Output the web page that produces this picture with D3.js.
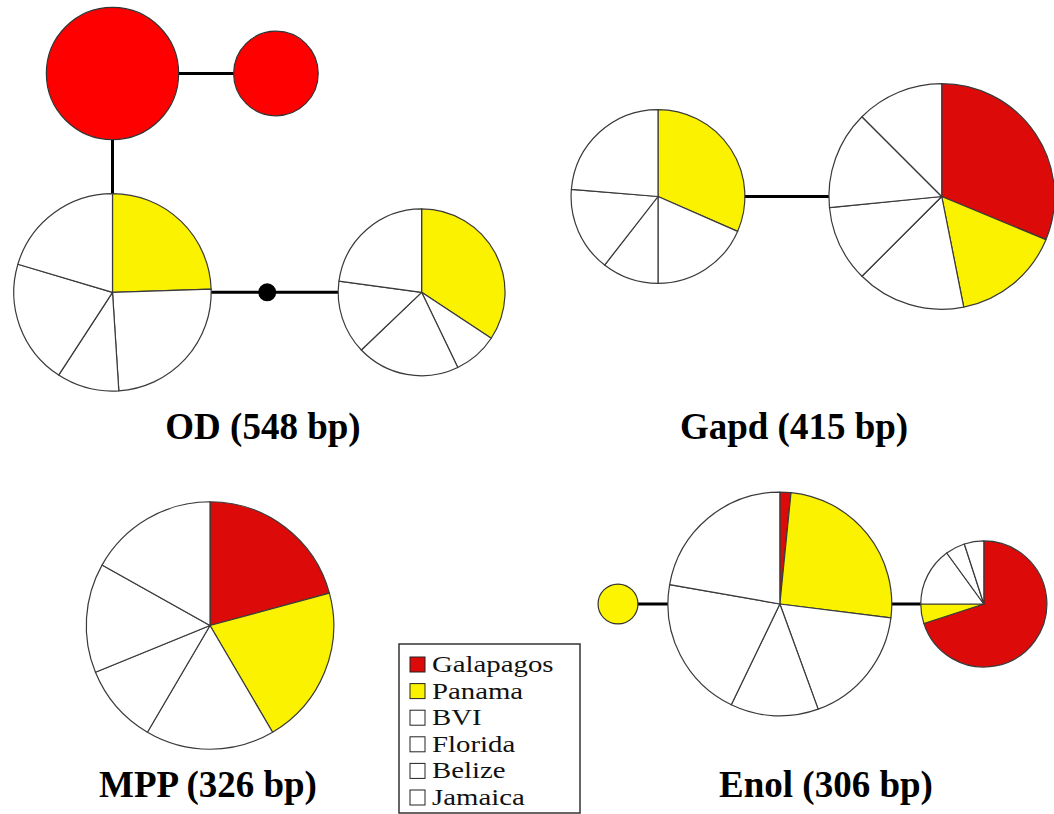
<!DOCTYPE html>
<html>
<head>
<meta charset="utf-8">
<script src="https://cdn.jsdelivr.net/npm/d3@7"></script>
<style>
  html, body { margin: 0; background: #fff; }
</style>
</head>
<body>
<svg id="chart"></svg>
<script>
// sampling regions, in the order the slices run (clockwise from 12 o'clock)
const regions = ["Galapagos", "Panama", "BVI", "Florida", "Belize", "Jamaica"];

// haplotype counts per region, one row per haplotype node
const odCounts = [
  [22, 0, 0, 0, 0, 0],
  [9, 0, 0, 0, 0, 0],
  [0, 12, 12, 5, 10, 10],
  [0, 12, 3, 7, 5, 8]
];
const gapdCounts = [
  [0, 12, 7, 4, 6, 9],
  [20, 10, 10, 7, 9, 8]
];
const mppCounts = [
  [16, 16, 13, 8, 11, 13]
];
const enolCounts = [
  [0, 2, 0, 0, 0, 0],
  [1, 16, 11, 8, 13, 14],
  [14, 1, 3, 1, 1, 0]
];
const locusLabels = ["OD (548 bp)", "Gapd (415 bp)", "MPP (326 bp)", "Enol (306 bp)"];

// colours
const pieColors = ["#dc0a08", "#fbf200", "#ffffff", "#ffffff", "#ffffff", "#ffffff"];
const soloColors = ["#ff0000", "#fcf400"]; // single-region nodes
const width = 1054, height = 814;

// network layout: root node centre, then links [from, to, direction, gap]
// "mv" is a median vector (missing haplotype)
const panels = [
  { counts: odCounts, root: [112.5, 73.5], label: [263, 439],
    links: [[0, 1, "right", 55], [0, 2, "down", 54], [2, "mv", "right", 47], ["mv", 3, "right", 62]] },
  { counts: gapdCounts, root: [658, 196.5], label: [794, 439],
    links: [[0, 1, "right", 84]] },
  { counts: mppCounts, root: [210, 625.5], label: [208, 797],
    links: [] },
  { counts: enolCounts, root: [618, 604], label: [826, 797],
    links: [[0, 1, "right", 30], [1, 2, "right", 29]] }
];
const dirs = { right: [1, 0], down: [0, 1] };

const svg = d3.select("#chart")
  .attr("width", width)
  .attr("height", height)
  .attr("viewBox", [0, 0, width, height])
  .style("font-family", "'Liberation Serif', 'Times New Roman', serif");

// node radius grows with the square root of the sample count
const rScale = d3.scaleSqrt().domain([0, 1]).range([0, 14.1]);
const mvRadius = 9;

const pie = d3.pie().sort(null).value(d => d.value);
const arc = d3.arc().innerRadius(0);

panels.forEach((p, pi) => {
  const rad = k => k === "mv" ? mvRadius : rScale(d3.sum(p.counts[k]));
  const pos = { 0: p.root };
  p.links.forEach(([a, b, dir, gap]) => {
    const d = dirs[dir];
    const dist = rad(a) + gap + rad(b);
    pos[b] = [pos[a][0] + d[0] * dist, pos[a][1] + d[1] * dist];
  });

  const g = svg.append("g");

  // links
  g.selectAll("line")
    .data(p.links)
    .join("line")
    .attr("x1", d => pos[d[0]][0])
    .attr("y1", d => pos[d[0]][1])
    .attr("x2", d => pos[d[1]][0])
    .attr("y2", d => pos[d[1]][1])
    .attr("stroke", "#000")
    .attr("stroke-width", 3);

  // haplotype nodes
  p.counts.forEach((c, k) => {
    const node = g.append("g").attr("transform", `translate(${pos[k]})`);
    const r = rad(k);
    const present = c.map((v, i) => ({ value: v, i })).filter(d => d.value > 0);
    if (present.length === 1) {
      node.append("circle")
        .attr("r", r)
        .attr("fill", soloColors[present[0].i])
        .attr("stroke", "#333")
        .attr("stroke-width", 1.2);
    } else {
      node.selectAll("path")
        .data(pie(present))
        .join("path")
        .attr("d", arc.outerRadius(r))
        .attr("fill", d => pieColors[d.data.i])
        .attr("stroke", "#3a3a3a")
        .attr("stroke-width", 1.2)
        .attr("stroke-linejoin", "round");
    }
  });

  // median vectors
  if (pos.mv) {
    g.append("circle")
      .attr("cx", pos.mv[0])
      .attr("cy", pos.mv[1])
      .attr("r", mvRadius)
      .attr("fill", "#000");
  }

  svg.append("text")
    .attr("x", p.label[0])
    .attr("y", p.label[1])
    .attr("text-anchor", "middle")
    .attr("font-weight", "bold")
    .attr("font-size", 37)
    .text(locusLabels[pi]);
});

// legend
const legend = svg.append("g");
legend.append("rect")
  .attr("x", 399).attr("y", 644)
  .attr("width", 181).attr("height", 169)
  .attr("fill", "#fff")
  .attr("stroke", "#333")
  .attr("stroke-width", 1.5);

const rowY = d3.scalePoint().domain(regions).range([672, 805]);
const item = legend.selectAll("g.item")
  .data(regions)
  .join("g")
  .attr("class", "item");
item.append("rect")
  .attr("x", 410)
  .attr("y", d => rowY(d) - 15)
  .attr("width", 15)
  .attr("height", 15)
  .attr("fill", (d, i) => pieColors[i])
  .attr("stroke", "#222")
  .attr("stroke-width", 1);
item.append("text")
  .attr("transform", d => `translate(432,${rowY(d)}) scale(1.2,1)`)
  .attr("font-size", 24)
  .attr("fill", "#111")
  .text(d => d);
</script>
</body>
</html>
